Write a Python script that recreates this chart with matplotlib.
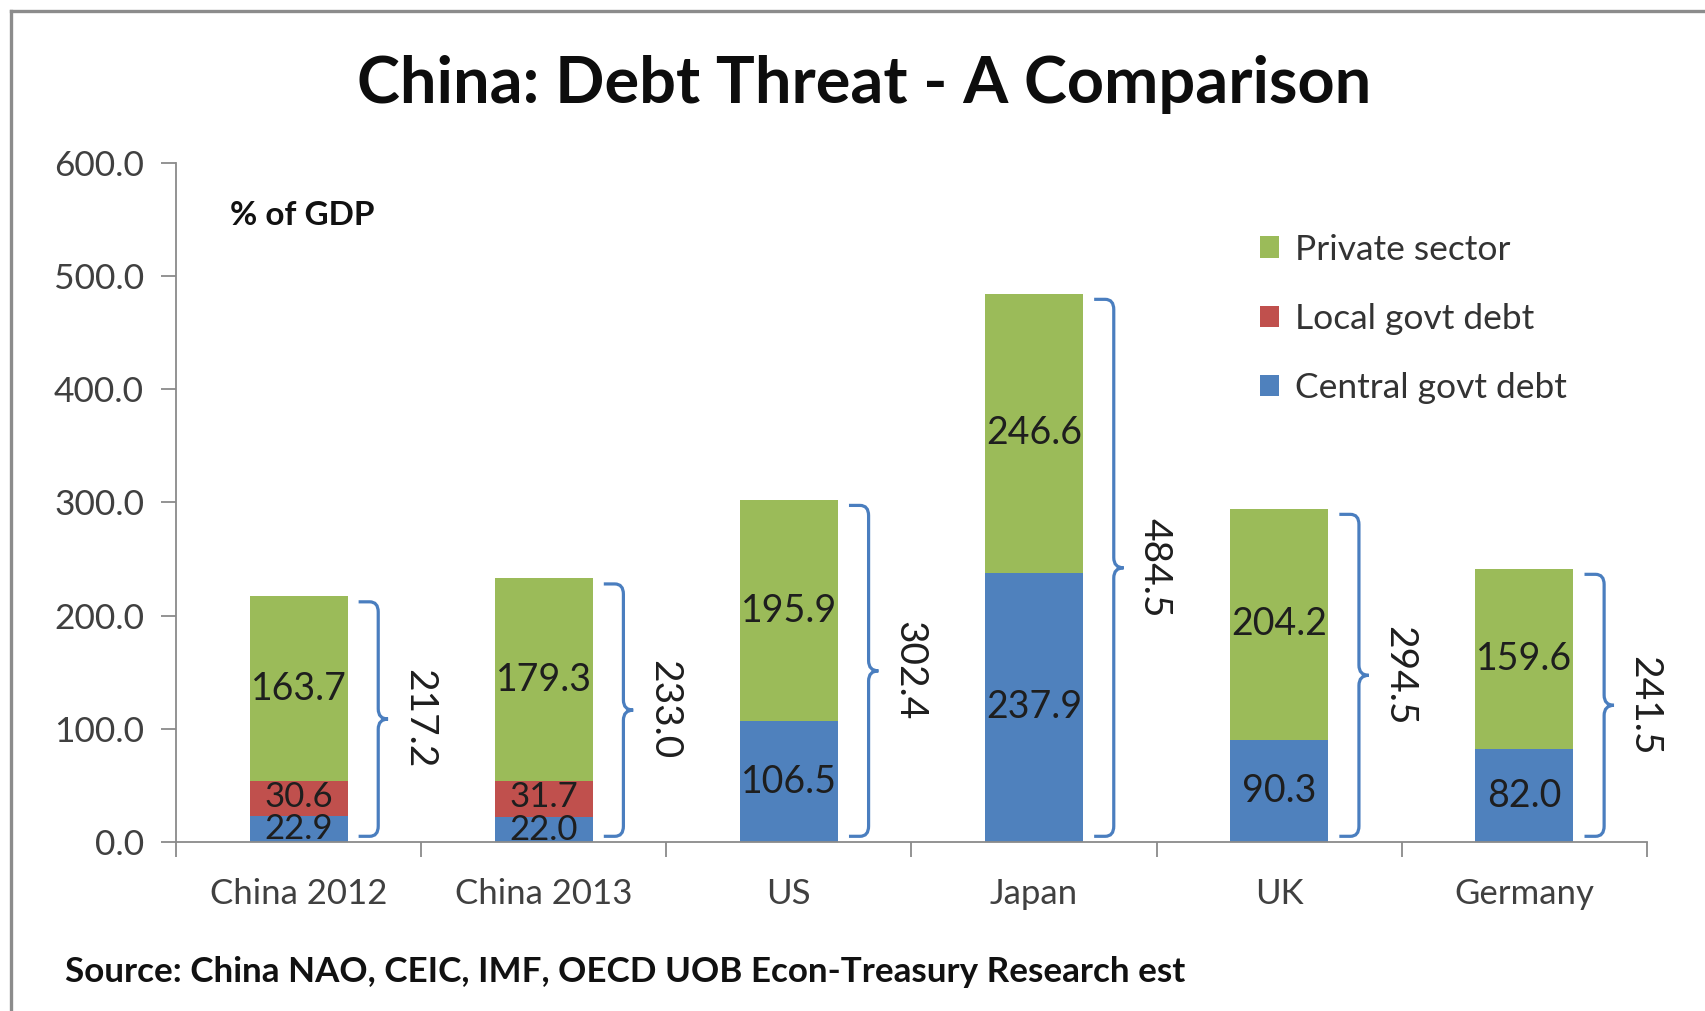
import numpy as np
import matplotlib
matplotlib.use("Agg")
import matplotlib.pyplot as plt
from matplotlib.path import Path
from matplotlib.patches import PathPatch
from matplotlib.lines import Line2D

plt.rcParams['font.family'] = ['Lato', 'DejaVu Sans']

# debt as % of GDP
countries = ["China 2012", "China 2013", "US", "Japan", "UK", "Germany"]
central_govt = [22.9, 22.0, 106.5, 237.9, 90.3, 82.0]
local_govt = [30.6, 31.7, 0.0, 0.0, 0.0, 0.0]
private_sector = [163.7, 179.3, 195.9, 246.6, 204.2, 159.6]
totals = [217.2, 233.0, 302.4, 484.5, 294.5, 241.5]

GREEN = "#9bbb59"
RED = "#c0504d"
BLUE = "#4f81bd"
BRACE = "#4a7ebf"
TXT = "#1e1e1e"
AXC = "#8a8a8a"

fig = plt.figure(figsize=(17.05, 10.11), dpi=100)
ax = fig.add_axes([0.1032, 0.1672, 0.8628, 0.6716])

x = np.arange(len(countries))
w = 0.40
central = np.array(central_govt)
local = np.array(local_govt)
private = np.array(private_sector)

ax.bar(x, central, w, color=BLUE, label="Central govt debt", zorder=2)
ax.bar(x, local, w, bottom=central, color=RED, label="Local govt debt", zorder=2)
ax.bar(x, private, w, bottom=central + local, color=GREEN, label="Private sector", zorder=2)

# segment labels (the thin china segments get a slightly smaller font)
for i in range(len(countries)):
    small = 25 if local[i] > 0 else 27
    ax.text(x[i], central[i] / 2, "%.1f" % central[i], ha="center", va="center",
            fontsize=small, color=TXT, zorder=3)
    if local[i] > 0:
        ax.text(x[i], central[i] + local[i] / 2 + 1.5, "%.1f" % local[i], ha="center",
                va="center", fontsize=small, color=TXT, zorder=3)
    ax.text(x[i], central[i] + local[i] + private[i] / 2, "%.1f" % private[i],
            ha="center", va="center", fontsize=27, color=TXT, zorder=3)


def brace(ax, c, lo, hi):
    # right-facing curly bracket spanning lo..hi next to bar at c
    x0, x1, xv, xt = c + 0.245, c + 0.29, c + 0.325, c + 0.365
    r = 9.0
    mid = (lo + hi) / 2
    verts = [(x0, hi), (x1, hi), (xv, hi), (xv, hi - r),
             (xv, mid + r), (xv, mid), (xt, mid),
             (xv, mid), (xv, mid - r),
             (xv, lo + r), (xv, lo), (x1, lo), (x0, lo)]
    codes = [Path.MOVETO, Path.LINETO, Path.CURVE3, Path.CURVE3,
             Path.LINETO, Path.CURVE3, Path.CURVE3,
             Path.CURVE3, Path.CURVE3,
             Path.LINETO, Path.CURVE3, Path.CURVE3, Path.LINETO]
    ax.add_patch(PathPatch(Path(verts, codes), fill=False, edgecolor=BRACE,
                           lw=2.3, zorder=3, capstyle="butt"))
    return xt, mid


for i, t in enumerate(totals):
    xt, mid = brace(ax, x[i], 5.0, t - 5.0)
    ax.text(x[i] + 0.49, mid, "%.1f" % t, rotation=270, ha="center", va="center",
            fontsize=28, color=TXT, zorder=3)

ax.set_xlim(-0.5, len(countries) - 0.5)
ax.set_ylim(0, 600)
ax.set_yticks(np.arange(0, 601, 100))
ax.set_yticklabels(["%.1f" % v for v in np.arange(0, 601, 100)])
ax.set_xticks(np.arange(-0.5, len(countries), 1.0))
ax.set_xticklabels([])
ax.set_xticks(x, minor=True)
ax.set_xticklabels(countries, minor=True)
ax.tick_params(axis="x", which="major", direction="out", length=11, width=1.3, color=AXC)
ax.tick_params(axis="x", which="minor", length=0, pad=26, labelsize=25, labelcolor="#404040")
ax.tick_params(axis="y", direction="out", length=11, width=1.3, color=AXC,
               labelsize=25.5, labelcolor="#404040", pad=12)
for s in ["top", "right"]:
    ax.spines[s].set_visible(False)
for s in ["left", "bottom"]:
    ax.spines[s].set_color(AXC)
    ax.spines[s].set_linewidth(1.3)

ax.text(0.037, 0.922, "% of GDP", transform=ax.transAxes, fontsize=24,
        fontweight="bold", color="#111111", ha="left", va="center")

handles, labels = ax.get_legend_handles_labels()
leg = ax.legend(handles[::-1], labels[::-1], loc="upper left",
                bbox_to_anchor=(0.715, 0.943), frameon=False, fontsize=25.5,
                handlelength=0.55, handleheight=0.55, handletextpad=0.45,
                labelspacing=1.05, labelcolor="#333333")

fig.text(0.507, 0.916, "China: Debt Threat - A Comparison", ha="center", va="center",
         fontsize=46.7, fontweight="bold", color="#0d0d0d")
fig.text(0.038, 0.039, "Source: China NAO, CEIC, IMF, OECD UOB Econ-Treasury Research est",
         ha="left", va="center", fontsize=25.2, fontweight="bold", color="#111111")

# outer frame
fig.add_artist(Line2D([0.0064, 0.0064], [0.0, 0.989], transform=fig.transFigure,
                      color="#8c8c8c", lw=2.4))
fig.add_artist(Line2D([0.0064, 1.0], [0.989, 0.989], transform=fig.transFigure,
                      color="#8c8c8c", lw=2.4))

fig.savefig("out.png", dpi=100)
